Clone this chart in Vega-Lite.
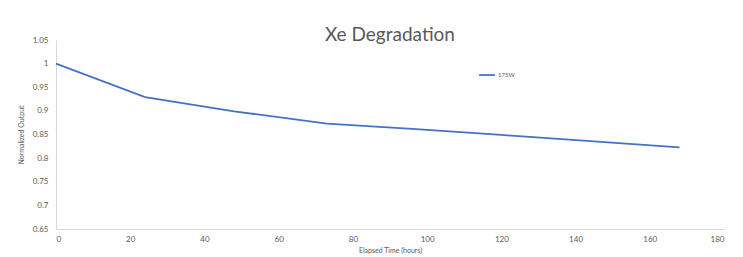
{
  "$schema": "https://vega.github.io/schema/vega-lite/v6.json",
  "width": 668,
  "height": 189,
  "autosize": "none",
  "padding": {"left": 56, "top": 40, "right": 19, "bottom": 28},
  "background": "white",
  "title": {
    "text": "Xe Degradation",
    "fontSize": 19,
    "font": "Lato",
    "fontWeight": "normal",
    "color": "#595959",
    "anchor": "middle",
    "offset": -9
  },
  "data": {
    "values": [
      {"hours": 0, "output": 1.0, "series": "175W"},
      {"hours": 24, "output": 0.929, "series": "175W"},
      {"hours": 48, "output": 0.899, "series": "175W"},
      {"hours": 73, "output": 0.873, "series": "175W"},
      {"hours": 96, "output": 0.862, "series": "175W"},
      {"hours": 120, "output": 0.849, "series": "175W"},
      {"hours": 144, "output": 0.836, "series": "175W"},
      {"hours": 168, "output": 0.8225, "series": "175W"}
    ]
  },
  "mark": {"type": "line", "strokeWidth": 1.75},
  "encoding": {
    "x": {
      "field": "hours",
      "type": "quantitative",
      "scale": {"domain": [0, 180], "nice": false, "zero": false},
      "axis": {
        "values": [0, 20, 40, 60, 80, 100, 120, 140, 160, 180],
        "title": "Elapsed Time (hours)",
        "titleFont": "Lato",
        "titleFontSize": 7,
        "titleFontWeight": "normal",
        "titleColor": "#595959",
        "titlePadding": 3,
        "labelFont": "Lato",
        "labelFontSize": 8,
        "labelColor": "#595959",
        "labelPadding": 6,
        "ticks": false,
        "grid": false,
        "domainColor": "#D9D9D9",
        "domainWidth": 1
      }
    },
    "y": {
      "field": "output",
      "type": "quantitative",
      "scale": {"domain": [0.65, 1.05], "nice": false, "zero": false},
      "axis": {
        "values": [0.65, 0.7, 0.75, 0.8, 0.85, 0.9, 0.95, 1, 1.05],
        "format": ".2~f",
        "title": "Normalized Output",
        "titleFont": "Lato",
        "titleFontSize": 7,
        "titleFontWeight": "normal",
        "titleColor": "#595959",
        "titlePadding": 8,
        "labelFont": "Lato",
        "labelFontSize": 8,
        "labelColor": "#595959",
        "labelPadding": 8,
        "ticks": false,
        "grid": false,
        "domainColor": "#D9D9D9",
        "domainWidth": 1
      }
    },
    "color": {
      "field": "series",
      "type": "nominal",
      "scale": {"range": ["#4472C4"]},
      "legend": {
        "title": null,
        "orient": "none",
        "legendX": 422,
        "legendY": 26,
        "symbolType": "stroke",
        "symbolSize": 250,
        "symbolStrokeWidth": 1.75,
        "labelFont": "Lato",
        "labelFontSize": 6,
        "labelColor": "#595959",
        "labelOffset": 2
      }
    }
  },
  "config": {"view": {"stroke": null}}
}
